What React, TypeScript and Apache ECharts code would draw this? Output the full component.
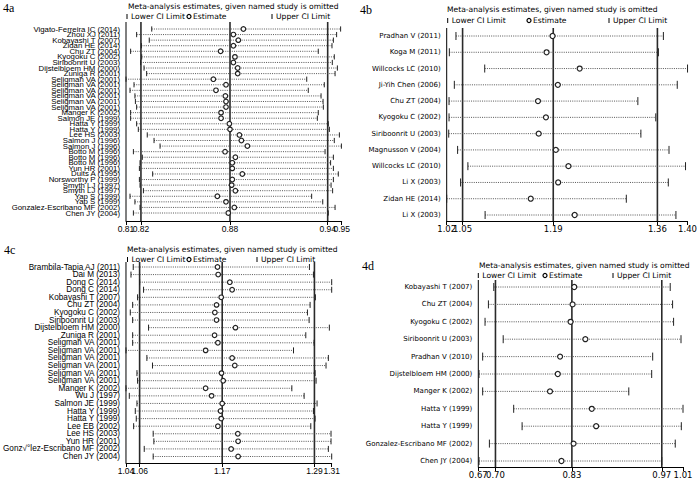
import React, { useEffect, useRef } from "react";
import * as echarts from "echarts";

// ---------------- DATA ----------------
const namesA = [
  "Vigato-Ferreira IC (2014)", "Zhou XJ (2011)", "Kobayashi T (2007)", "Zidan HE (2014)",
  "Chu ZT (2004)", "Kyogoku C (2002)", "Siriboonrit U (2003)", "Dijstelbloem HM (2000)",
  "Zuniga R (2001)", "Seligman VA (2001)", "Seligman VA (2001)", "Seligman VA (2001)",
  "Seligman VA (2001)", "Seligman VA (2001)", "Seligman VA (2001)", "Manger K (2002)",
  "Salmon JE (1999)", "Hatta Y (1999)", "Hatta Y (1999)", "Lee HS (2003)",
  "Salmon J (1996)", "Salmon J (1996)", "Botto M (1996)", "Botto M (1996)",
  "Botto M (1996)", "Yun HR (2001)", "Duits A (1995)", "Norsworthy P (1999)",
  "Smyth LJ (1997)", "Smyth LJ (1997)", "Yap S (1999)", "Yap S (1999)",
  "Gonzalez-Escribano MF (2002)", "Chen JY (2004)",
];
const lowerA = [
  0.8267, 0.8169, 0.8251, 0.8200, 0.8130, 0.8202, 0.8195, 0.8217, 0.8234,
  0.8100, 0.8152, 0.8126, 0.8158, 0.8161, 0.8169,
  0.8130, 0.8130, 0.8169, 0.8180, 0.8238, 0.8282, 0.8321, 0.8148, 0.8206,
  0.8191, 0.8187, 0.8273, 0.8187, 0.8191, 0.8213, 0.8126, 0.8158, 0.8191, 0.8148,
];
const estA = [
  0.8862, 0.8797, 0.8829, 0.8797, 0.8714, 0.8807, 0.8797, 0.8825, 0.8825,
  0.8667, 0.8749, 0.8684, 0.8745, 0.8749, 0.8749,
  0.8717, 0.8717, 0.8771, 0.8775, 0.8836, 0.8849, 0.8888, 0.8743, 0.8810,
  0.8790, 0.8790, 0.8855, 0.8790, 0.8786, 0.8810, 0.8693, 0.8749, 0.8803, 0.8764,
];
const upperA = [
  0.9493, 0.9467, 0.9446, 0.9437, 0.9348, 0.9452, 0.9439, 0.9472, 0.9457,
  0.9273, 0.9387, 0.9283, 0.9366, 0.9379, 0.9381,
  0.9348, 0.9342, 0.9413, 0.9420, 0.9485, 0.9452, 0.9498, 0.9392, 0.9446,
  0.9428, 0.9446, 0.9478, 0.9446, 0.9431, 0.9441, 0.9305, 0.9377, 0.9457, 0.9413,
];
const refA = [0.8197, 0.8775, 0.9409];
const ticksA = [0.81, 0.8197, 0.8775, 0.9409, 0.95];
const tickLabelsA = ["0.81", "0.82", "0.88", "0.94", "0.95"];

const namesB = [
  "Pradhan V (2011)", "Koga M (2011)", "Willcocks LC (2010)", "Ji-Yih Chen (2006)",
  "Chu ZT (2004)", "Kyogoku C (2002)", "Siriboonrit U (2003)", "Magnusson V (2004)",
  "Willcocks LC (2010)", "Li X (2003)", "Zidan HE (2014)", "Li X (2003)",
];
const lowerB = [1.0375, 1.0270, 1.0831, 1.0349, 1.0265, 1.0265, 1.0260, 1.0401, 1.0564, 1.0448, 1.0228, 1.0837];
const estB = [1.1907, 1.1812, 1.2337, 1.1991, 1.1676, 1.1802, 1.1687, 1.1959, 1.2159, 1.1996, 1.1561, 1.2258];
const upperB = [1.3665, 1.3586, 1.4048, 1.3885, 1.3260, 1.3544, 1.3308, 1.3754, 1.4016, 1.3743, 1.3077, 1.3864];
const refB = [1.048, 1.1918, 1.357];
const ticksB = [1.0228, 1.048, 1.1918, 1.357, 1.4048];
const tickLabelsB = ["1.02", "1.05", "1.19", "1.36", "1.40"];

const namesC = [
  "Brambila-Tapia AJ (2011)", "Dai M (2013)", "Dong C (2014)", "Dong C (2014)",
  "Kobayashi T (2007)", "Chu ZT (2004)", "Kyogoku C (2002)", "Siriboonrit U (2003)",
  "Dijstelbloem HM (2000)", "Zuniga R (2001)", "Seligman VA (2001)", "Seligman VA (2001)",
  "Seligman VA (2001)", "Seligman VA (2001)", "Seligman VA (2001)", "Seligman VA (2001)",
  "Manger K (2002)", "Wu J (1997)", "Salmon JE (1999)", "Hatta Y (1999)", "Hatta Y (1999)",
  "Lee EB (2002)", "Lee HS (2003)", "Yun HR (2001)", "Gonz√°lez-Escribano MF (2002)", "Chen JY (2004)",
];
const lowerC = [
  1.0521, 1.0491, 1.0605, 1.0657, 1.0578, 1.0513, 1.0482, 1.0513, 1.0723, 1.0513,
  1.0513, 1.0425, 1.0701, 1.0775, 1.0570, 1.0578,
  1.0425, 1.0469, 1.0570, 1.0548, 1.0561, 1.0526, 1.0784, 1.0793, 1.0666, 1.0784,
];
const estC = [
  1.1633, 1.1642, 1.1795, 1.1826, 1.1682, 1.1620, 1.1598, 1.1620, 1.1870, 1.1594,
  1.1638, 1.1476, 1.1826, 1.1861, 1.1686, 1.1708,
  1.1476, 1.1555, 1.1695, 1.1673, 1.1682, 1.1638, 1.1901, 1.1905, 1.1813, 1.1905,
];
const upperC = [
  1.2846, 1.2899, 1.3140, 1.3140, 1.2925, 1.2855, 1.2820, 1.2842, 1.3109, 1.2798,
  1.2908, 1.2636, 1.3096, 1.3065, 1.2921, 1.2934,
  1.2614, 1.2776, 1.2947, 1.2899, 1.2921, 1.2864, 1.3131, 1.3131, 1.3096, 1.3140,
];
const refC = [1.0605, 1.1695, 1.2912];
const ticksC = [1.0425, 1.0605, 1.1695, 1.2912, 1.314];
const tickLabelsC = ["1.04", "1.06", "1.17", "1.29", "1.31"];

const namesD = [
  "Kobayashi T (2007)", "Chu ZT (2004)", "Kyogoku C (2002)", "Siriboonrit U (2003)",
  "Pradhan V (2010)", "Dijstelbloem HM (2000)", "Manger K (2002)", "Hatta Y (1999)",
  "Hatta Y (1999)", "Gonzalez-Escribano MF (2002)", "Chen JY (2004)",
];
const lowerD = [0.7013, 0.6927, 0.6873, 0.7164, 0.6835, 0.6776, 0.6835, 0.7332, 0.7467, 0.6943, 0.6776];
const estD = [0.8303, 0.8276, 0.8244, 0.8481, 0.8076, 0.8039, 0.7914, 0.8584, 0.8654, 0.8292, 0.8098];
const upperD = [0.9841, 0.9879, 0.9895, 1.0014, 0.9560, 0.9544, 0.9177, 1.0046, 1.0019, 0.9922, 0.9706];
const refD = [0.704, 0.8265, 0.9706];
const ticksD = [0.6765, 0.704, 0.8265, 0.9706, 1.0046];
const tickLabelsD = ["0.67", "0.70", "0.83", "0.97", "1.01"];

const titleText = "Meta-analysis estimates, given named study is omitted";
const panelLabels = ["4a", "4b", "4c", "4d"];

// ---------------- LAYOUT ----------------
const SANS = '"Liberation Sans", Arial, sans-serif';
const WIDE = '"DejaVu Sans", "Liberation Sans", sans-serif';
const SERIF = '"Liberation Serif", "DejaVu Serif", serif';

const panels = [
  {
    names: namesA, lower: lowerA, est: estA, upper: upperA, refs: refA, ticks: ticksA, tickLabels: tickLabelsA,
    left: 126, right: 341.7, plotTop: 22, axisY: 221, firstRow: 29, lastRow: 213,
    labelFont: SANS, labelSize: 7.8, tickH: 2.6, r: 2.3,
    tag: { x: 3, y: 8 }, title: { x: 128, y: 6 }, legendY: 16, legendX: [127, 187, 272],
  },
  {
    names: namesB, lower: lowerB, est: estB, upper: upperB, refs: refB, ticks: ticksB, tickLabels: tickLabelsB,
    left: 446.7, right: 689.3, plotTop: 28, axisY: 221, firstRow: 36, lastRow: 215,
    labelFont: WIDE, labelSize: 7, tickH: 4, r: 2.5,
    tag: { x: 360, y: 10 }, title: { x: 447, y: 9 }, legendY: 20, legendX: [447.7, 527, 609],
  },
  {
    names: namesC, lower: lowerC, est: estC, upper: upperC, refs: refC, ticks: ticksC, tickLabels: tickLabelsC,
    left: 125, right: 331.7, plotTop: 262, axisY: 463, firstRow: 267, lastRow: 456.5,
    labelFont: SANS, labelSize: 8.2, tickH: 3, r: 2.3,
    tag: { x: 4, y: 250 }, title: { x: 127, y: 249 }, legendY: 259, legendX: [127.5, 187, 257],
  },
  {
    names: namesD, lower: lowerD, est: estD, upper: upperD, refs: refD, ticks: ticksD, tickLabels: tickLabelsD,
    left: 478.3, right: 683, plotTop: 280, axisY: 467, firstRow: 287, lastRow: 461,
    labelFont: WIDE, labelSize: 7, tickH: 4, r: 2.5,
    tag: { x: 362, y: 266 }, title: { x: 479, y: 265 }, legendY: 275, legendX: [478.3, 543, 613],
  },
];

function nearestLabel(v: number, ticks: number[], labels: string[]) {
  let best = 0;
  for (let i = 1; i < ticks.length; i++) {
    if (Math.abs(ticks[i] - v) < Math.abs(ticks[best] - v)) best = i;
  }
  return labels[best];
}

function buildOption() {
  const grid: any[] = [];
  const xAxis: any[] = [];
  const yAxis: any[] = [];
  const series: any[] = [];
  const graphic: any[] = [];

  panels.forEach((p, k) => {
    const n = p.names.length;
    const band = (p.lastRow - p.firstRow) / (n - 1);
    const gTop = p.firstRow - band / 2;
    const gBottom = p.lastRow + band / 2;
    const offset = p.axisY - gBottom;
    grid.push({ left: p.left, top: gTop, width: p.right - p.left, height: gBottom - gTop, containLabel: false });

    // two x axes per panel (alternating ticks) so adjacent labels are never auto-hidden
    [0, 1].forEach((part) => {
      const vals = p.ticks.filter((_, i) => i % 2 === part);
      xAxis.push({
        gridIndex: k, type: "value", position: "bottom", offset,
        min: p.ticks[0], max: p.ticks[p.ticks.length - 1],
        axisLine: { show: part === 0, onZero: false, lineStyle: { color: "#000", width: 1 } },
        axisTick: { show: true, customValues: vals, length: 4, lineStyle: { color: "#000", width: 1 } },
        axisLabel: {
          customValues: vals, margin: 3, fontSize: 8.5, color: "#000", fontFamily: p.labelFont,
          showMinLabel: true, showMaxLabel: true, hideOverlap: false,
          formatter: (v: number) => nearestLabel(v, p.ticks, p.tickLabels),
        },
        splitLine: { show: false },
      });
    });
    yAxis.push({
      gridIndex: k, type: "category", inverse: true, data: p.names, boundaryGap: true,
      axisLine: { show: false },
      axisTick: { show: false },
      splitLine: { show: false },
      axisLabel: {
        interval: 0, margin: 6, fontSize: p.labelSize, color: "#000",
        fontFamily: p.labelFont, hideOverlap: false,
      },
    });
    const xi = 2 * k;
    // reference lines + left frame line
    series.push({
      type: "custom", xAxisIndex: xi, yAxisIndex: k, z: 1, silent: true, clip: false,
      data: [p.ticks[0], ...p.refs].map((v) => [v, 0]),
      encode: { x: 0, y: 1 },
      renderItem: (params: any, api: any) => {
        const x = api.coord([api.value(0), 0])[0];
        const isFrame = params.dataIndex === 0;
        return {
          type: "line",
          shape: { x1: x, y1: p.plotTop, x2: x, y2: p.axisY },
          style: { stroke: isFrame ? "#000" : "#2a2a2a", lineWidth: isFrame ? 1 : 1.6 },
        };
      },
    });
    // study rows
    series.push({
      type: "custom", xAxisIndex: xi, yAxisIndex: k, z: 3, silent: true, clip: false,
      data: p.names.map((_, i) => [p.lower[i], i, p.est[i], p.upper[i]]),
      encode: { x: [0, 2, 3], y: 1 },
      renderItem: (params: any, api: any) => {
        const i = api.value(1);
        const a = api.coord([api.value(0), i]);
        const e = api.coord([api.value(2), i]);
        const b = api.coord([api.value(3), i]);
        const h = p.tickH;
        return {
          type: "group",
          children: [
            { type: "line", shape: { x1: a[0], y1: a[1], x2: b[0], y2: b[1] }, style: { stroke: "#444", lineWidth: 0.9, lineDash: [1, 1.2] } },
            { type: "line", shape: { x1: a[0], y1: a[1] - h, x2: a[0], y2: a[1] + h }, style: { stroke: "#222", lineWidth: 1 } },
            { type: "line", shape: { x1: b[0], y1: b[1] - h, x2: b[0], y2: b[1] + h }, style: { stroke: "#222", lineWidth: 1 } },
            { type: "circle", shape: { cx: e[0], cy: e[1], r: p.r }, style: { fill: "#fff", stroke: "#222", lineWidth: 1.2 } },
          ],
        };
      },
    });

    // texts
    graphic.push({
      type: "text", x: p.tag.x, y: p.tag.y,
      style: { text: panelLabels[k], font: `12px ${SERIF}`, fill: "#000", verticalAlign: "middle" },
    });
    graphic.push({
      type: "text", x: p.title.x, y: p.title.y,
      style: { text: titleText, font: `7.6px ${WIDE}`, fill: "#000", verticalAlign: "middle" },
    });
    const ly = p.legendY;
    const [lx1, lx2, lx3] = p.legendX;
    graphic.push({ type: "line", shape: { x1: lx1, y1: ly - 2, x2: lx1, y2: ly + 3 }, style: { stroke: "#000", lineWidth: 1 } });
    graphic.push({ type: "text", x: lx1 + 4, y: ly, style: { text: "Lower CI Limit", font: `7.6px ${WIDE}`, fill: "#000", verticalAlign: "middle" } });
    graphic.push({ type: "circle", shape: { cx: lx2 + 2, cy: ly + 0.5, r: 2 }, style: { fill: "#fff", stroke: "#000", lineWidth: 1.2 } });
    graphic.push({ type: "text", x: lx2 + 6, y: ly, style: { text: "Estimate", font: `7.6px ${WIDE}`, fill: "#000", verticalAlign: "middle" } });
    graphic.push({ type: "line", shape: { x1: lx3, y1: ly - 2, x2: lx3, y2: ly + 3 }, style: { stroke: "#000", lineWidth: 1 } });
    graphic.push({ type: "text", x: lx3 + 4, y: ly, style: { text: "Upper CI Limit", font: `7.6px ${WIDE}`, fill: "#000", verticalAlign: "middle" } });
  });

  return { animation: false, backgroundColor: "#fff", grid, xAxis, yAxis, series, graphic };
}

export default function App() {
  const ref = useRef<HTMLDivElement>(null);
  useEffect(() => {
    if (!ref.current) return;
    const chart = echarts.init(ref.current, undefined, { renderer: "svg" });
    chart.setOption(buildOption() as any);
    return () => chart.dispose();
  }, []);
  return <div ref={ref} style={{ width: 700, height: 480, position: "absolute", left: 0, top: 0 }} />;
}
